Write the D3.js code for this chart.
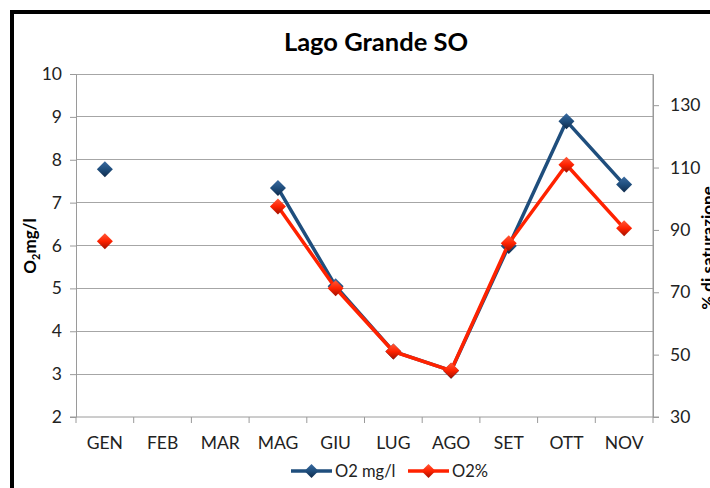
<!DOCTYPE html>
<html><head><meta charset="utf-8">
<script src="https://cdn.jsdelivr.net/npm/d3@7"></script>
<style>
html,body{margin:0;padding:0;background:#fff;}
svg{display:block;font-family:Lato,"Open Sans",sans-serif;}
</style></head>
<body>
<svg id="c" width="710" height="488"></svg>
<script>
const categories = ["GEN","FEB","MAR","MAG","GIU","LUG","AGO","SET","OTT","NOV"];
const o2mgl = [7.78, null, null, 7.34, 5.05, 3.53, 3.08, 5.99, 8.9, 7.42];
const o2pct = [86.4, null, null, 97.5, 71.3, 51.0, 44.9, 85.7, 110.9, 90.5];
const leftTicks = [2,3,4,5,6,7,8,9,10];
const rightTicks = [30,50,70,90,110,130];
const seriesNames = ["O2 mg/l","O2%"];

const svg = d3.select("#c");
const L = 76, R = 653, T = 74, B = 417;
const x = d3.scaleBand().domain(categories).range([L, R]);
const yL = d3.scaleLinear().domain([2,10]).range([B, T]);
const yR = d3.scaleLinear().domain([30,140]).range([B, T]);

const blue = "#1f4e7d", red = "#ff2200";

const defs = svg.append("defs");
function grad(id, c1, c2, c3){
  const g = defs.append("linearGradient").attr("id", id)
    .attr("x1","0").attr("y1","0").attr("x2","0").attr("y2","1");
  g.append("stop").attr("offset","0%").attr("stop-color",c1);
  g.append("stop").attr("offset","50%").attr("stop-color",c2);
  g.append("stop").attr("offset","100%").attr("stop-color",c3);
}
grad("gb", "#3a6aa0", "#1f4e7d", "#0f2a4a");
grad("gr", "#ff5a3a", "#ff2200", "#a01000");

// border frame
svg.append("path").attr("d","M12,488 L12,12 L710,12")
  .attr("fill","none").attr("stroke","#000").attr("stroke-width",4);

// title
svg.append("text").attr("x",376).attr("y",51).attr("text-anchor","middle")
  .attr("font-size",25.5).attr("font-weight","bold").attr("fill","#000").text("Lago Grande SO");

// gridlines
svg.append("g").selectAll("line").data(leftTicks.filter(d=>d>2)).join("line")
  .attr("x1",L).attr("x2",R).attr("y1",d=>yL(d)).attr("y2",d=>yL(d))
  .attr("stroke","#a6a6a6").attr("stroke-width",1).attr("shape-rendering","crispEdges");

const FS = 17.5;
const axStyle = g => {
  g.select(".domain").attr("stroke","#9a9a9a");
  g.selectAll(".tick line").attr("stroke","#9a9a9a");
  g.selectAll(".tick text").attr("fill","#222").attr("font-size",FS).attr("font-family","Lato, sans-serif");
};
svg.append("g").attr("transform",`translate(${L},0)`)
  .call(d3.axisLeft(yL).tickValues(leftTicks).tickSize(6).tickSizeOuter(0).tickPadding(8).tickFormat(d3.format("d")))
  .call(axStyle);
svg.append("g").attr("transform",`translate(${R},0)`)
  .call(d3.axisRight(yR).tickValues(rightTicks).tickSize(6).tickSizeOuter(0).tickPadding(11).tickFormat(d3.format("d")))
  .call(axStyle);
svg.append("line").attr("x1",R).attr("x2",R).attr("y1",T).attr("y2",B).attr("stroke","#9a9a9a");

// x axis
const xg = svg.append("g").attr("transform",`translate(0,${B})`);
xg.append("line").attr("x1",L-6).attr("x2",R+6).attr("y1",0).attr("y2",0).attr("stroke","#9a9a9a");
const bounds = categories.map(c=>x(c)).concat([R]);
xg.selectAll("line.tk").data(bounds).join("line").attr("class","tk")
  .attr("x1",d=>d).attr("x2",d=>d).attr("y1",0).attr("y2",6).attr("stroke","#9a9a9a");
xg.selectAll("text").data(categories).join("text")
  .attr("x",d=>x(d)+x.bandwidth()/2).attr("y",32).attr("text-anchor","middle")
  .attr("font-size",FS).attr("fill","#222").text(d=>d);

// axis titles
const lt = svg.append("text").attr("transform","translate(36,246) rotate(-90)")
  .attr("text-anchor","middle").attr("font-size",17).attr("font-weight","bold").attr("fill","#000");
lt.append("tspan").text("O");
lt.append("tspan").attr("font-size",11).attr("dy",4).text("2");
lt.append("tspan").attr("dy",-4).text("mg/l");
svg.append("text").attr("transform","translate(714,248) rotate(-90)")
  .attr("text-anchor","middle").attr("font-size",17).attr("font-weight","bold").attr("fill","#000")
  .text("% di saturazione");

// series
function diamond(sel, cx, cy, fill, r){
  sel.append("path").attr("d",`M${cx},${cy-r} L${cx+r},${cy} L${cx},${cy+r} L${cx-r},${cy} Z`)
    .attr("fill",fill);
}
const cx = d => x(d)+x.bandwidth()/2;
function drawSeries(vals, scale, color, gid){
  const data = categories.map((c,i)=>({c, v: vals[i]}));
  const line = d3.line().defined(d=>d.v!==null).x(d=>cx(d.c)).y(d=>scale(d.v));
  svg.append("path").datum(data).attr("d",line).attr("fill","none")
    .attr("stroke",color).attr("stroke-width",3.5).attr("stroke-linejoin","round");
  const g = svg.append("g");
  data.filter(d=>d.v!==null).forEach(d=>diamond(g, cx(d.c), scale(d.v), `url(#${gid})`, 8));
}
drawSeries(o2mgl, yL, blue, "gb");
drawSeries(o2pct, yR, red, "gr");

// legend
const leg = [{n:seriesNames[0], c:blue, g:"gb", x:291, w:41},{n:seriesNames[1], c:red, g:"gr", x:408, w:41}];
const ly = 471;
leg.forEach(l=>{
  svg.append("line").attr("x1",l.x).attr("x2",l.x+l.w).attr("y1",ly).attr("y2",ly)
    .attr("stroke",l.c).attr("stroke-width",3.5);
  diamond(svg, l.x+l.w/2, ly, `url(#${l.g})`, 7);
  svg.append("text").attr("x",l.x+l.w+3).attr("y",ly+6).attr("font-size",16.5).attr("fill","#222").text(l.n);
});
</script>
</body></html>
